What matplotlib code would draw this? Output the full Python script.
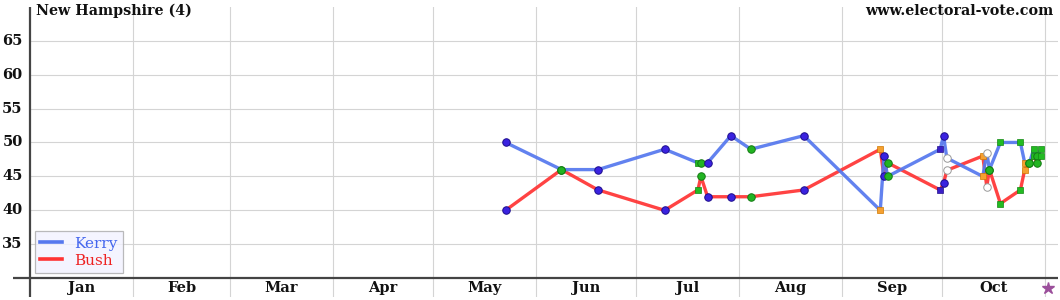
import matplotlib
matplotlib.use("Agg")
import matplotlib.pyplot as plt
from matplotlib.lines import Line2D

# ---- data (day of year 2004, 0 = Jan 1) ----
poll_day = [142.9, 159.7, 170.7, 190.7, 200.7, 201.6, 203.6, 210.6, 216.6, 232.5,
            255.5, 256.6, 257.7, 273.5, 274.5, 275.5, 286.3, 287.5, 288.3, 291.6,
            297.6, 298.9, 300.3, 301.6, 302.7, 303.8]
kerry = [50, 46, 46, 49, 47, 47, 47, 51, 49, 51,
         40, 48, 45, 49, 51, 47.7, 45, 48.5, 46, 50,
         50, 47, 47, 49, 48, 49]
bush = [40, 46, 43, 40, 43, 45, 42, 42, 42, 43,
        49, 45, 47, 43, 44, 45.9, 48, 43.5, 46, 41,
        43, 46, 47, 48, 47, 48]
poll_type = ['bc', 'gc', 'bc', 'bc', 'gs', 'gc', 'bc', 'bc', 'gc', 'bc',
             'os', 'bc', 'gc', 'ps', 'bc', 'hc', 'os', 'hc', 'gc', 'gs',
             'gs', 'os', 'gc', 'gs', 'gc', 'gs']
month_labels = ['Jan', 'Feb', 'Mar', 'Apr', 'May', 'Jun', 'Jul', 'Aug', 'Sep', 'Oct']
month_start = [0, 31, 60, 91, 121, 152, 182, 213, 244, 274, 305]
y_ticks = [35, 40, 45, 50, 55, 60, 65]
election_day = 306
title = 'New Hampshire (4)'
site = 'www.electoral-vote.com'

styles = {
    'bc': dict(marker='o', ms=5.4, mfc='#3a22e0', mec='#1c0c8c', mew=0.7),
    'gc': dict(marker='o', ms=5.4, mfc='#22b422', mec='#127a12', mew=0.7),
    'gs': dict(marker='s', ms=4.6, mfc='#22bb22', mec='#128812', mew=0.5),
    'os': dict(marker='s', ms=4.6, mfc='#f5a030', mec='#d07800', mew=0.5),
    'ps': dict(marker='s', ms=4.2, mfc='#3a1fc8', mec='#22108a', mew=0.5),
    'hc': dict(marker='o', ms=5.4, mfc='white', mec='#999999', mew=0.7),
}

W, H = 1060, 300
fig = plt.figure(figsize=(W / 100, H / 100), dpi=100)
font = ['DejaVu Serif']
ax = fig.add_axes([13 / W, 1 - 297 / H, (1058 - 13) / W, (297 - 6.7) / H])
ax.set_xlim(-5.11, 308.9)
ax.set_ylim(27.23, 70)
ax.axis('off')

grid_c = '#d4d4d4'
for d in month_start[1:]:
    ax.axvline(d, color=grid_c, lw=0.8, zorder=1)
for y in y_ticks:
    ax.plot([0, 308.9], [y, y], color=grid_c, lw=0.8, zorder=1)
ax.axvline(0, color='#444444', lw=1.6, zorder=2)
ax.axhline(30, color='#444444', lw=1.6, zorder=2)

ax.plot(poll_day, bush, color='#ff3333', lw=2.4, alpha=0.92, zorder=3,
        solid_joinstyle='round', solid_capstyle='round')
ax.plot(poll_day, kerry, color='#5577ee', lw=2.4, alpha=0.92, zorder=4,
        solid_joinstyle='round', solid_capstyle='round')
for d, k, b, t in zip(poll_day, kerry, bush, poll_type):
    ax.plot([d, d], [k, b], ls='none', zorder=5, **styles[t])

for y in y_ticks:
    ax.text(-2.2, y, str(y), ha='right', va='center', fontsize=10.5,
            fontweight='bold', family=font, color='#111111')
for i, m in enumerate(month_labels):
    mid = (month_start[i] + month_start[i + 1]) / 2
    ax.text(mid, 28.5, m, ha='center', va='center', fontsize=10.5,
            fontweight='bold', family=font, color='#111111')
ax.plot([election_day], [28.6], marker='*', ms=9, color='#9b4f9b', mec='#9b4f9b',
        ls='none', clip_on=False, zorder=6)

fig.text(36 / W, 1 - 15 / H, title, ha='left', va='baseline', fontsize=10.3,
         fontweight='bold', family=font, color='#111111')
fig.text(1053 / W, 1 - 15 / H, site, ha='right', va='baseline', fontsize=10.3,
         fontweight='bold', family=font, color='#111111')

handles = [Line2D([], [], color='#5577ee', lw=2.6), Line2D([], [], color='#ff3333', lw=2.6)]
leg = ax.legend(handles, ['Kerry', 'Bush'], loc='lower left',
                bbox_to_anchor=(35 / W, 1 - 273 / H), bbox_transform=fig.transFigure,
                borderaxespad=0, frameon=True, fancybox=False, handlelength=1.4,
                handletextpad=0.8, borderpad=0.35, labelspacing=0.2,
                prop=dict(family=font, size=11), labelcolor=['#4466ee', '#ee2222'])
leg.get_frame().set_facecolor('#f2f2ff')
leg.get_frame().set_edgecolor('#aaaaaa')
leg.get_frame().set_linewidth(0.9)
leg.set_zorder(10)

fig.savefig('out.png', dpi=100)
